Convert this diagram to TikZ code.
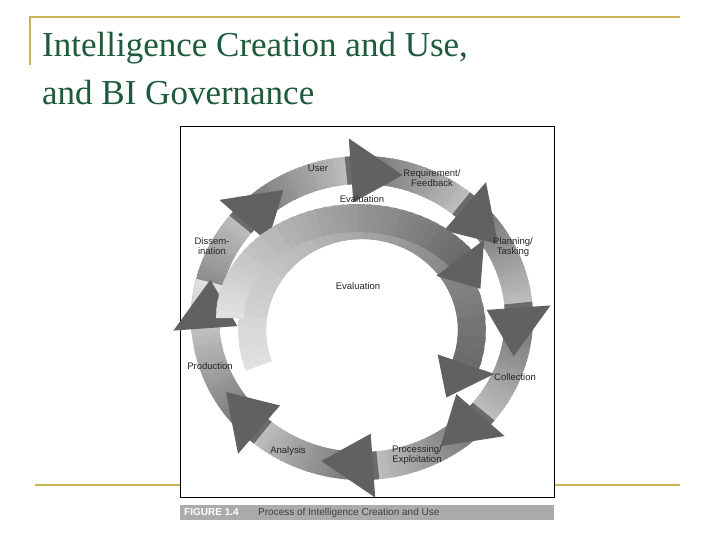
\documentclass[tikz,border=0pt]{standalone}
\usepackage{fontspec}
\setmainfont{Liberation Serif}
\newfontfamily\lab{Liberation Sans}
\definecolor{gold}{RGB}{200,180,80}
\definecolor{ttl}{RGB}{30,90,60}
\newcommand\gbody[7]{%
 \foreach \i in {0,...,39}{
  \pgfmathsetmacro\pa{#6+(#7-#6)*\i/40}
  \pgfmathsetmacro\pb{#6+(#7-#6)*(\i+1.5)/40}
  \pgfmathtruncatemacro\sh{12+48*\i/40}
  \fill[black!\sh] ({#1+(#3+#5)*cos(\pa)},{#2-(#4+#5)*sin(\pa)}) -- ({#1+(#3+#5)*cos(\pb)},{#2-(#4+#5)*sin(\pb)}) -- ({#1+(#3-#5)*cos(\pb)},{#2-(#4-#5)*sin(\pb)}) -- ({#1+(#3-#5)*cos(\pa)},{#2-(#4-#5)*sin(\pa)}) -- cycle;}}
\newcommand\ghead[7]{%
 \fill[black!62] ({#1+(#3+#7)*cos(#5)},{#2-(#4+#7)*sin(#5)}) -- ({#1+#3*cos(#6)},{#2-#4*sin(#6)}) -- ({#1+(#3-#7)*cos(#5)},{#2-(#4-#7)*sin(#5)}) -- cycle;}
\tikzset{lbl/.style={font=\lab\fontsize{9.5}{10.5}\selectfont, align=center, inner sep=0pt, text=black!85}}
\begin{document}
\begin{tikzpicture}[x=1pt,y=-1pt]
\useasboundingbox (0,0) rectangle (720,540);
\fill[white] (0,0) rectangle (720,540);
\draw[gold,line width=1.5pt] (30,65) -- (30,17) -- (680,17);
\draw[gold,line width=1.5pt] (35,485) -- (680,485);
\node[anchor=base west,text=ttl,font=\fontsize{35}{40}\selectfont,inner sep=0] (t1) at (42,57) {Intelligence Creation and Use,};
\node[anchor=base west,text=ttl,font=\fontsize{35}{40}\selectfont,inner sep=0] (t2) at (42,105) {and BI Governance};
\fill[white] (180,126) rectangle (554,497);
\draw[black,line width=0.8pt] (180,126) rectangle (554,497);
% outer ring arrows
\foreach \t in {75,30,-15,-60,-105,-150,-195,-240}{
  \gbody{362}{318}{157}{148}{14}{\t+46}{\t+18}
}
\foreach \t in {75,30,-15,-60,-105,-150,-195,-240}{
  \ghead{362}{318}{157}{148}{\t+19}{\t}{32}
}
% inner arrows
\gbody{362}{330}{110}{105}{14}{200}{-20}
\ghead{362}{330}{110}{105}{-19}{-40}{30}
\gbody{358}{318}{128}{100}{14}{180}{36}
\ghead{358}{318}{128}{100}{37}{17}{30}
% labels
\node[lbl] (u) at (318,168) {User};
\node[lbl] (rq) at (432,178) {Requirement/\\Feedback};
\node[lbl] (e1) at (362,199) {Evaluation};
\node[lbl] (ds) at (212,246) {Dissem-\\ination};
\node[lbl] (pl) at (513,247) {Planning/\\Tasking};
\node[lbl] (e2) at (358,286) {Evaluation};
\node[lbl] (pr) at (210,366) {Production};
\node[lbl] (co) at (515,377) {Collection};
\node[lbl] (an) at (288,451) {Analysis};
\node[lbl] (pe) at (417,455) {Processing/\\Exploitation};
% caption
\fill[black!33] (180,505) rectangle (554,520);
\node[anchor=west,text=white,font=\lab\bfseries\fontsize{10}{11}\selectfont,inner sep=0] (fg) at (184,512.5) {FIGURE 1.4};
\node[anchor=west,text=black!75,font=\lab\fontsize{10}{11}\selectfont,inner sep=0] (cp) at (258,512.5) {Process of Intelligence Creation and Use};
\end{tikzpicture}
\end{document}
